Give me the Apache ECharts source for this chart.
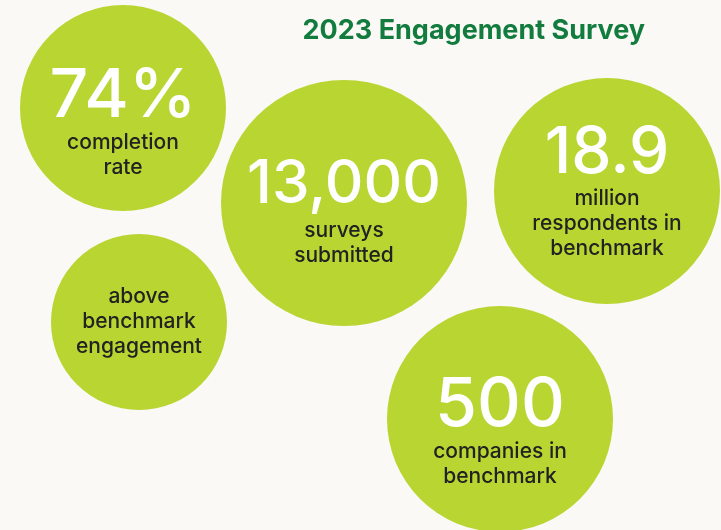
<!DOCTYPE html>
<html>
<head>
<meta charset="utf-8">
<script src="https://cdn.jsdelivr.net/npm/echarts@6/dist/echarts.min.js"></script>
<style>
  html, body { margin: 0; padding: 0; background: #faf9f6; }
  #chart { width: 721px; height: 530px; }
</style>
</head>
<body>
<div id="chart"></div>
<script>
// bubble centres (chart units = pixels of the 721x530 frame) and radii
const bubbleX = [123, 344, 607, 139, 500]
const bubbleY = [108, 203, 191, 322, 419]
const bubbleR = [103, 123, 113, 88, 113]
const figures = ['74%', '13,000', '18.9', '', '500']
const captions = [
  ['completion', 'rate'],
  ['surveys', 'submitted'],
  ['million', 'respondents in', 'benchmark'],
  ['above', 'benchmark', 'engagement'],
  ['companies in', 'benchmark']
]
const figureSize = [68, 60, 64, 0, 68]
const labelShift = [14, 7, 0, 0, 12]

const LIME = '#b9d532'
const myChart = echarts.init(document.getElementById('chart'))

const points = bubbleX.map((x, i) => {
  let text = captions[i].map(c => '{cap|' + c + '}').join('\n')
  if (figures[i]) text = '{big' + i + '|' + figures[i] + '}\n' + text
  return {
    value: [x, bubbleY[i]],
    symbolSize: bubbleR[i] * 2,
    label: { formatter: text, offset: [0, labelShift[i]] }
  }
})

const rich = {
  cap: { fontFamily: 'Inter', fontWeight: 500, fontSize: 21, color: '#222', lineHeight: 25 }
}
figureSize.forEach((s, i) => {
  rich['big' + i] = { fontFamily: 'Inter', fontWeight: 500, fontSize: s, color: '#fff', lineHeight: 66 }
})

myChart.setOption({
  backgroundColor: '#faf9f6',
  animation: false,
  title: {
    text: '2023 Engagement Survey',
    right: 71,
    top: 12,
    textStyle: { fontFamily: 'Inter', fontWeight: 'bold', fontSize: 27, color: '#117c3e' }
  },
  grid: { left: 0, right: 0, top: 0, bottom: 0 },
  xAxis: { type: 'value', min: 0, max: 721, show: false },
  yAxis: { type: 'value', min: 0, max: 530, inverse: true, show: false },
  series: [{
    type: 'scatter',
    symbol: 'circle',
    itemStyle: { color: LIME, opacity: 1 },
    label: { show: true, position: 'inside', align: 'center', rich: rich },
    data: points
  }]
})
</script>
</body>
</html>
